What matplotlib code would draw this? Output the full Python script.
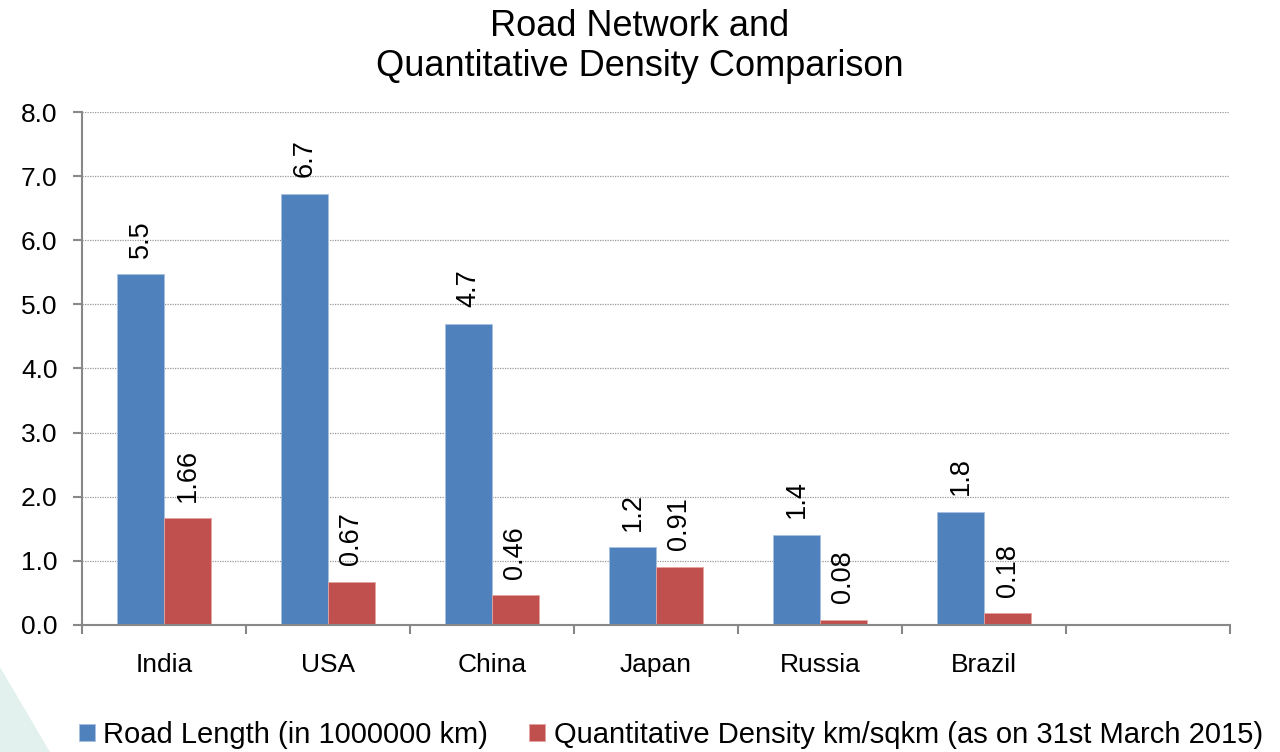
import matplotlib.pyplot as plt
from matplotlib.patches import Polygon
import numpy as np

# chart data
countries = ["India", "USA", "China", "Japan", "Russia", "Brazil"]
road_length = [5.47, 6.72, 4.70, 1.21, 1.40, 1.76]
density = [1.66, 0.67, 0.46, 0.91, 0.08, 0.18]
road_labels = ["5.5", "6.7", "4.7", "1.2", "1.4", "1.8"]
density_labels = ["1.66", "0.67", "0.46", "0.91", "0.08", "0.18"]
y_ticks = [0, 1, 2, 3, 4, 5, 6, 7, 8]

plt.rcParams['font.family'] = ['Liberation Sans', 'DejaVu Sans']

fig = plt.figure(figsize=(12.8, 7.52), dpi=100)
fig.patch.set_facecolor('white')

# faint teal shape in lower-left corner
fig.patches.append(Polygon([[0, 0], [0.039, 0], [0, 0.113]], closed=True,
                           transform=fig.transFigure, facecolor='#e2f1ed',
                           edgecolor='none', zorder=0))

ax = fig.add_axes([0.064, 0.169, 0.897, 0.682])
ax.set_facecolor('none')

x = np.arange(len(countries))
w = 0.286
blue = '#4F81BD'
red = '#C0504D'

ax.bar(x - w / 2, road_length, w, color=blue, edgecolor='#a9c1e0', linewidth=0.6, zorder=3)
ax.bar(x + w / 2, density, w, color=red, edgecolor='#e3a3a1', linewidth=0.6, zorder=3)

# value labels, rotated
for i in range(len(countries)):
    ax.text(x[i] - w / 2, road_length[i] + 0.26, road_labels[i], rotation=90,
            ha='center', va='bottom', fontsize=19.5)
    ax.text(x[i] + w / 2, density[i] + 0.26, density_labels[i], rotation=90,
            ha='center', va='bottom', fontsize=19.5)

ax.set_xlim(-0.5, 6.5)
ax.set_ylim(0, 8)
ax.set_yticks(y_ticks)
ax.set_yticklabels([f"{v:.1f}" for v in y_ticks], fontsize=19)
ax.set_xticks(x)
ax.set_xticklabels(countries, fontsize=19)
ax.set_xticks(np.arange(-0.5, 7, 1), minor=True)
ax.tick_params(axis='x', which='major', length=0, pad=20)
ax.tick_params(axis='x', which='minor', length=6.5, color='#888888', width=1.5)
ax.tick_params(axis='y', length=6.5, color='#888888', width=1.5, pad=11)

ax.grid(axis='y', linestyle=(0, (1, 1)), color='#999999', linewidth=0.9, zorder=0)
for s in ['top', 'right']:
    ax.spines[s].set_visible(False)
for s in ['left', 'bottom']:
    ax.spines[s].set_color('#888888')
    ax.spines[s].set_linewidth(1.5)
    ax.spines[s].set_zorder(4)

fig.text(0.5, 0.988, "Road Network and\nQuantitative Density Comparison",
         ha='center', va='top', fontsize=26, linespacing=1.2)

fig.legend(["Road Length (in 1000000 km)",
            "Quantitative Density km/sqkm (as on 31st March 2015)"],
           loc='center', bbox_to_anchor=(0.524, 0.023), ncol=2, frameon=False,
           fontsize=21, handlelength=0.55, handleheight=0.55, handletextpad=0.3,
           columnspacing=1.4, borderpad=0, borderaxespad=0)

fig.savefig("out.png", dpi=100)
